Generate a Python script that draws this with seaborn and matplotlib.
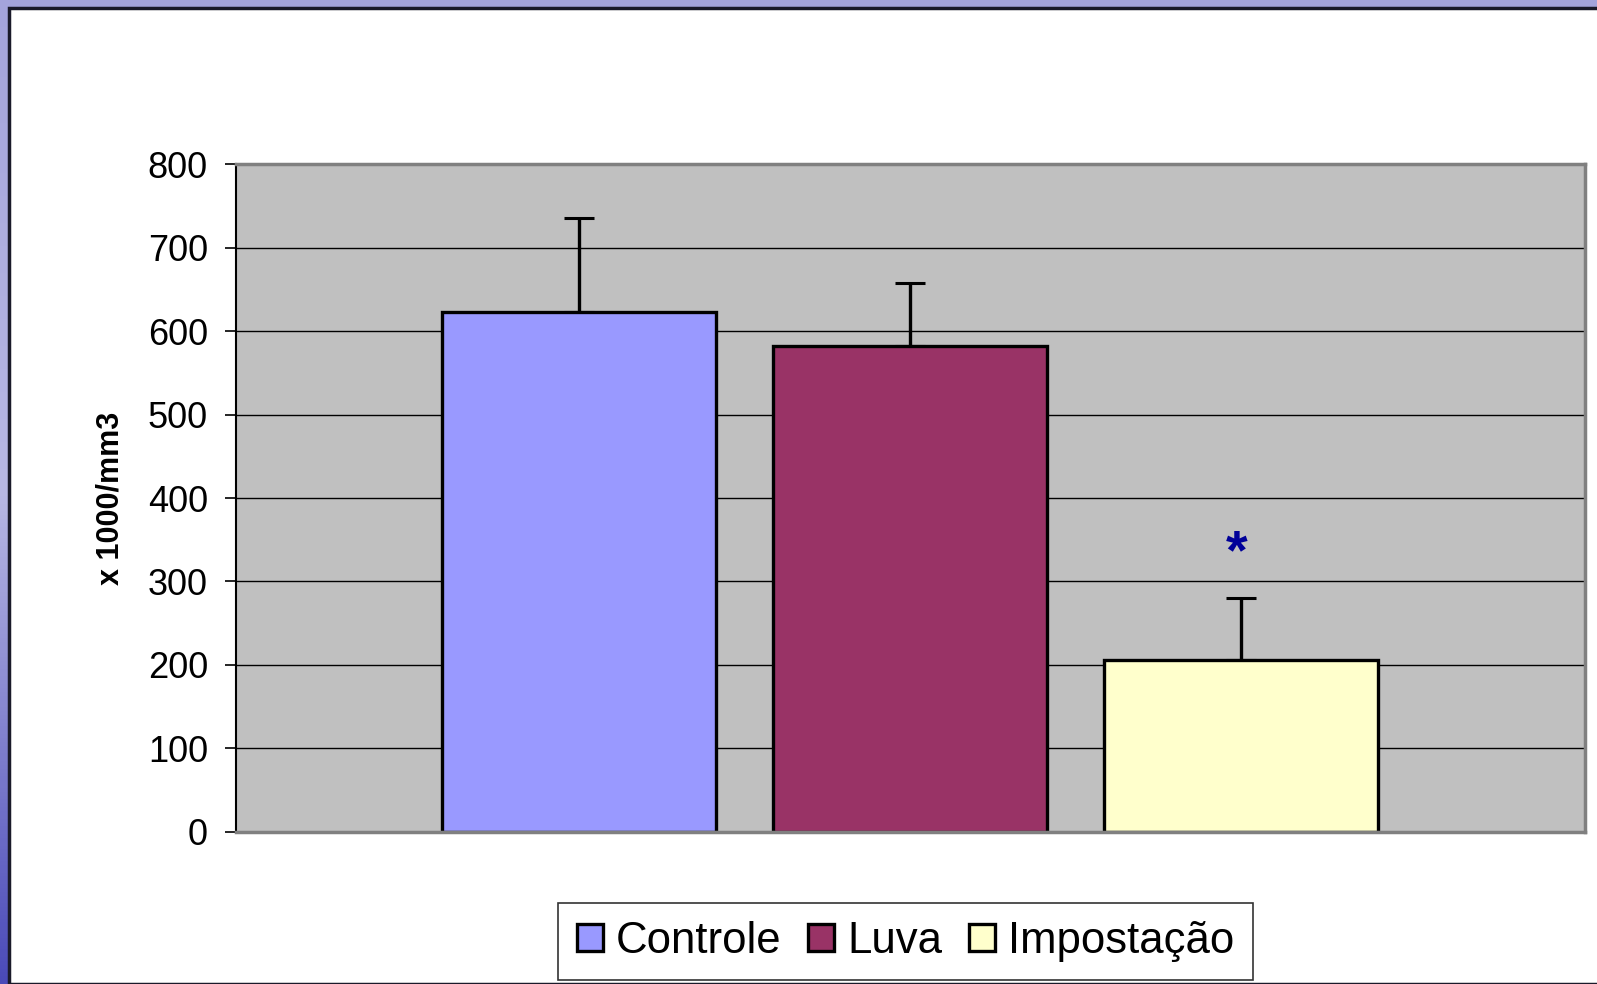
import numpy as np
import pandas as pd
import seaborn as sns
import matplotlib.pyplot as plt
from matplotlib.patches import Patch, Rectangle
from matplotlib.colors import LinearSegmentedColormap

# dados
grupos = ['Controle', 'Luva', 'Impostação']
medias = [623, 582, 206]
erros = [112, 75, 74]
cores = ['#9999FF', '#993366', '#FFFFCC']
yticks = [0, 100, 200, 300, 400, 500, 600, 700, 800]

df = pd.DataFrame({'grupo': grupos, 'valor': medias})

sns.set_style('white')
plt.rcParams['font.family'] = ['Liberation Sans', 'DejaVu Sans']
plt.rcParams['text.color'] = 'black'
plt.rcParams['ytick.color'] = 'black'
plt.rcParams['axes.labelcolor'] = 'black'

fig = plt.figure(figsize=(15.97, 9.84), dpi=100)

# fundo do slide (faixa azulada à esquerda e em cima)
bg = fig.add_axes([0, 0, 1, 1], zorder=-2)
grad = np.linspace(0, 1, 256).reshape(-1, 1)
cmap = LinearSegmentedColormap.from_list('slide', ['#a4a4dc', '#b8b8e4', '#4a4ab8'])
bg.imshow(grad, aspect='auto', cmap=cmap, extent=[0, 1, 0, 1], origin='upper')
bg.add_patch(Rectangle((9 / 1597, 0), 1, 1 - 8 / 984, facecolor='white',
                       edgecolor='#1a1a2a', linewidth=2.5))
bg.set_xlim(0, 1)
bg.set_ylim(0, 1)
bg.axis('off')

ax = fig.add_axes([0.1476, 0.1545, 0.8449, 0.6788])
ax.set_facecolor('#C0C0C0')
ax.grid(axis='y', color='black', linewidth=1.0)
ax.set_axisbelow(True)

sns.barplot(data=df, x='grupo', y='valor', hue='grupo', palette=cores,
            saturation=1, width=0.828, edgecolor='black', linewidth=2.4,
            legend=False, errorbar=None, ax=ax, zorder=2)

# barras de erro só para cima, atrás das barras
ax.errorbar(range(len(grupos)), medias, yerr=[[0] * len(grupos), erros],
            fmt='none', ecolor='black', elinewidth=2.4, capsize=11,
            capthick=2.2, zorder=1)

ax.text(1.985, 333, '*', color='#000099', fontsize=40, fontweight='bold',
        ha='center', va='center')

ax.set_xlim(-1.038, 3.038)
ax.set_ylim(0, 800)
ax.set_yticks(yticks)
ax.set_yticklabels([str(t) for t in yticks], fontsize=26)
ax.tick_params(axis='y', direction='out', length=8, width=1.2, color='black',
               pad=12, left=True, labelcolor='black')
ax.set_xticks([])
ax.set_xlabel('')
ax.set_ylabel('x 1000/mm3', fontsize=22, fontweight='bold', color='black')
ax.yaxis.set_label_coords(-0.082, 0.5)

for side in ['top', 'right', 'bottom']:
    ax.spines[side].set_color('#808080')
    ax.spines[side].set_linewidth(2.5)
ax.spines['left'].set_color('black')
ax.spines['left'].set_linewidth(1.5)

handles = [Patch(facecolor=c, edgecolor='black', linewidth=2.4) for c in cores]
leg = fig.legend(handles, grupos, loc='center', bbox_to_anchor=(0.567, 0.0432),
                 ncol=3, frameon=True, fancybox=False, shadow=False,
                 prop={'size': 31.5},
                 handlelength=0.6, handleheight=0.6, handletextpad=0.3,
                 columnspacing=0.6, borderpad=0.42, borderaxespad=0)
leg.get_frame().set_edgecolor('black')
leg.get_frame().set_linewidth(1.2)
for t in leg.get_texts():
    t.set_color('black')

fig.savefig('out.png', dpi=100)
